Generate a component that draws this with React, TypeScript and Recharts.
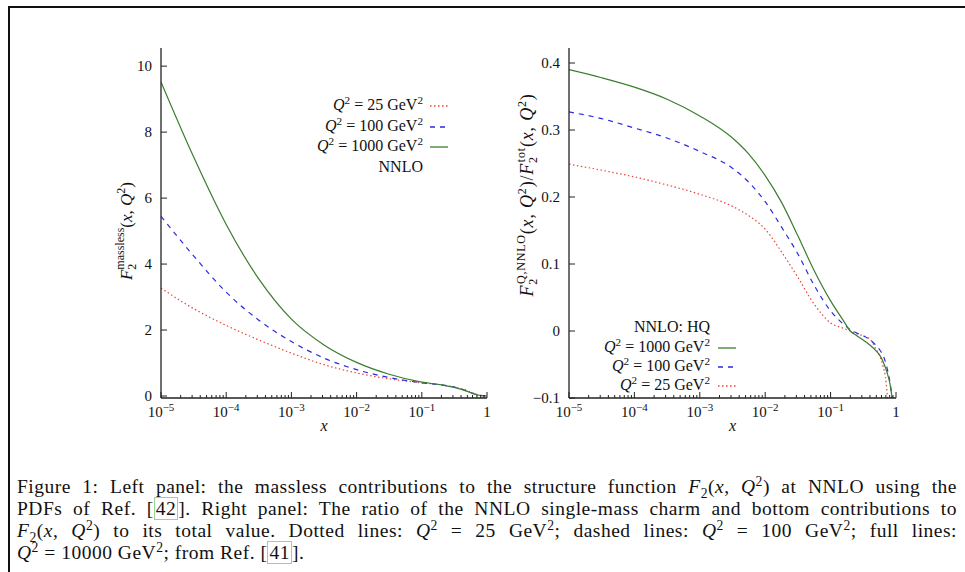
import { LineChart, Line, XAxis, YAxis } from "recharts";

const FONT = '"Liberation Serif", "Times New Roman", serif';
const AXIS = "#222";
const RED = "#e8453c";
const BLUE = "#2a2ae0";
const GREEN = "#3b7d2e";

// x ticks (log axis), shared by both panels
const majorTicks = [1e-5, 1e-4, 1e-3, 1e-2, 1e-1, 1];
const minorSteps = [2, 3, 4, 5, 6, 7, 8, 9];
const allXTicks = [
  ...majorTicks,
  ...majorTicks.slice(0, -1).flatMap((m) => minorSteps.map((s) => s * m)),
];

// left panel: massless F2
const leftX = [1e-5, 3.16e-5, 1e-4, 3.16e-4, 1e-3, 3.16e-3, 1e-2, 3.16e-2, 0.1, 0.2, 0.316, 0.5, 0.63, 0.79, 1];
const left1000 = [9.52, 7.25, 5.2, 3.55, 2.33, 1.55, 1.02, 0.66, 0.42, 0.34, 0.26, 0.14, 0.06, 0.015, 0];
const left100 = [5.45, 4.25, 3.15, 2.3, 1.65, 1.15, 0.8, 0.56, 0.4, 0.34, 0.27, 0.15, 0.07, 0.02, 0];
const left25 = [3.27, 2.65, 2.14, 1.7, 1.3, 0.95, 0.7, 0.52, 0.4, 0.34, 0.27, 0.16, 0.08, 0.02, 0];
const leftYTicks = [0, 2, 4, 6, 8, 10];

// right panel: ratio of heavy-quark part to total
const rightX = [
  1e-5, 3.16e-5, 1e-4, 3.16e-4, 1e-3, 3.16e-3, 5.62e-3, 1e-2, 1.78e-2, 3.16e-2, 5.62e-2, 0.1,
  0.158, 0.2, 0.251, 0.398, 0.5, 0.562, 0.631, 0.708, 0.741, 0.794, 0.832, 0.871,
];
const right1000 = [
  0.39, 0.378, 0.364, 0.346, 0.321, 0.288, 0.264, 0.232, 0.192, 0.142, 0.09, 0.045,
  0.015, 0.0, -0.007, -0.021, -0.03, -0.036, -0.045, -0.058, -0.064, -0.075, -0.086, -0.1,
];
const right100 = [
  0.327, 0.317, 0.303, 0.288, 0.268, 0.243, 0.222, 0.193, 0.155, 0.115, 0.068, 0.03,
  0.01, 0.002, -0.003, -0.013, -0.022, -0.028, -0.036, -0.05, -0.058, -0.072, -0.085, -0.1,
];
const right25 = [
  0.249, 0.24, 0.23, 0.218, 0.204, 0.186, 0.172, 0.152, 0.118, 0.08, 0.04, 0.012,
  0.004, 0.0, -0.004, -0.012, -0.028, -0.037, -0.052, -0.078, -0.1, null, null, null,
];
const rightYTicks = [-0.1, 0, 0.1, 0.2, 0.3, 0.4];

const leftData = leftX.map((x, i) => ({ x, q1000: left1000[i], q100: left100[i], q25: left25[i] }));
const rightData = rightX.map((x, i) => ({ x, q1000: right1000[i], q100: right100[i], q25: right25[i] }));

const isMajor = (v: number) => Math.abs(Math.log10(v) - Math.round(Math.log10(v))) < 1e-6;

const BottomTick = (props: any) => {
  const { x, y, payload } = props;
  const v = payload.value;
  const major = isMajor(v);
  const exp = Math.round(Math.log10(v));
  return (
    <g>
      <line x1={x} x2={x} y1={y} y2={y - (major ? 6 : 3)} stroke={AXIS} strokeWidth={1} />
      {major && (
        <text x={x} y={y + 19} textAnchor="middle" fontFamily={FONT} fontSize={15} fill="#111">
          {exp === 0 ? (
            "1"
          ) : (
            <>
              <tspan>10</tspan>
              <tspan dy={-6} fontSize={11}>{`−${-exp}`}</tspan>
            </>
          )}
        </text>
      )}
    </g>
  );
};

const TopTick = (props: any) => {
  const { x, y, payload } = props;
  const major = isMajor(payload.value);
  return <line x1={x} x2={x} y1={y} y2={y + (major ? 6 : 3)} stroke={AXIS} strokeWidth={1} />;
};

const fmtY = (v: number) => (v === 0 ? "0" : v < 0 ? `−${Math.abs(v)}` : `${v}`);

const LeftYTick = (props: any) => {
  const { x, y, payload } = props;
  return (
    <g>
      <line x1={x} x2={x + 6} y1={y} y2={y} stroke={AXIS} strokeWidth={1} />
      <text x={x - 9} y={y} textAnchor="end" dominantBaseline="central" fontFamily={FONT} fontSize={15} fill="#111">
        {fmtY(payload.value)}
      </text>
    </g>
  );
};

const RightYTick = (props: any) => {
  const { x, y } = props;
  return <line x1={x} x2={x - 6} y1={y} y2={y} stroke={AXIS} strokeWidth={1} />;
};

const xLabel = { value: "x", position: "insideBottom" as const, offset: 9, fontFamily: FONT, fontSize: 16, fontStyle: "italic", fill: "#111" };

// F_2^{sup}(x, Q^2) as rotated svg tspans
const F2Parts = ({ sup }: { sup: string }) => (
  <>
    <tspan fontStyle="italic">F</tspan>
    <tspan fontSize={12} dy={4}>2</tspan>
    <tspan fontSize={12} dx={-6} dy={-12}>{sup}</tspan>
    <tspan dy={8}>(</tspan>
    <tspan fontStyle="italic">x</tspan>
    <tspan>, </tspan>
    <tspan fontStyle="italic">Q</tspan>
    <tspan fontSize={12} dy={-7}>2</tspan>
    <tspan dy={7}>)</tspan>
  </>
);

const LeftYLabel = (p: any) => {
  const vb = p.viewBox;
  const cx = vb.x + vb.width - 29;
  const cy = 231;
  return (
    <text x={cx} y={cy} transform={`rotate(-90 ${cx} ${cy})`} textAnchor="middle" fontFamily={FONT} fontSize={17} fill="#111">
      <F2Parts sup="massless" />
    </text>
  );
};

const RightYLabel = (p: any) => {
  const vb = p.viewBox;
  const cx = vb.x + 33;
  const cy = 195;
  return (
    <text x={cx} y={cy} transform={`rotate(-90 ${cx} ${cy})`} textAnchor="middle" fontFamily={FONT} fontSize={18} letterSpacing={0.8} fill="#111">
      <F2Parts sup="Q,NNLO" />
      <tspan>/</tspan>
      <F2Parts sup="tot" />
    </text>
  );
};

const series = [
  { key: "q25", color: RED, dash: "1.5 2.5" },
  { key: "q100", color: BLUE, dash: "5 5" },
  { key: "q1000", color: GREEN, dash: undefined },
];

const supS = { fontSize: "0.7em", lineHeight: 0 };
const subS = { fontSize: "0.7em", lineHeight: 0 };

const Q2 = ({ q }: { q: string }) => (
  <span>
    <i>Q</i>
    <sup style={supS}>2</sup> = {q} GeV
    <sup style={supS}>2</sup>
  </span>
);

const LegendRow = ({ right, top, sampleX, children, color, dash }: any) => (
  <>
    <div style={{ position: "absolute", left: 0, width: right, top: top - 10, height: 20, lineHeight: "20px", textAlign: "right", fontFamily: FONT, fontSize: 16, color: "#111", whiteSpace: "nowrap" }}>
      {children}
    </div>
    {color && (
      <svg style={{ position: "absolute", left: sampleX, top: top - 2 }} width={18} height={6}>
        <line x1={0} x2={18} y1={3} y2={3} stroke={color} strokeWidth={1.3} strokeDasharray={dash} />
      </svg>
    )}
  </>
);

const Panel = ({ data, yDomain, yTicks, yWidth, marginRight, width, yLabel }: any) => (
  <LineChart width={width} height={440} data={data} margin={{ top: 48, right: marginRight, bottom: 0, left: 0 }}>
    <XAxis
      xAxisId="b"
      dataKey="x"
      type="number"
      scale="log"
      domain={[1e-5, 1]}
      allowDataOverflow
      ticks={allXTicks}
      interval={0}
      height={42}
      tickSize={0}
      tickMargin={0}
      tick={<BottomTick />}
      tickLine={false}
      axisLine={{ stroke: AXIS, strokeWidth: 1.3 }}
      label={xLabel}
    />
    <XAxis
      xAxisId="t"
      orientation="top"
      dataKey="x"
      type="number"
      scale="log"
      domain={[1e-5, 1]}
      allowDataOverflow
      ticks={allXTicks}
      interval={0}
      height={0}
      tickSize={0}
      tickMargin={0}
      tick={<TopTick />}
      tickLine={false}
      axisLine={{ stroke: AXIS, strokeWidth: 1.3 }}
    />
    <YAxis
      yAxisId="l"
      type="number"
      domain={yDomain}
      allowDataOverflow
      ticks={yTicks}
      interval={0}
      width={yWidth}
      tickSize={0}
      tickMargin={0}
      tick={<LeftYTick />}
      tickLine={false}
      axisLine={{ stroke: AXIS, strokeWidth: 1.3 }}
      label={{ content: yLabel }}
    />
    <YAxis
      yAxisId="r"
      orientation="right"
      type="number"
      domain={yDomain}
      allowDataOverflow
      ticks={yTicks}
      interval={0}
      width={0}
      tickSize={0}
      tickMargin={0}
      tick={<RightYTick />}
      tickLine={false}
      axisLine={{ stroke: AXIS, strokeWidth: 1.3 }}
    />
    {series.map((s) => (
      <Line
        key={s.key}
        xAxisId="b"
        yAxisId="l"
        dataKey={s.key}
        type="monotone"
        stroke={s.color}
        strokeWidth={1.2}
        strokeDasharray={s.dash}
        dot={false}
        activeDot={false}
        isAnimationActive={false}
      />
    ))}
  </LineChart>
);

const ref = { border: "1px solid #96d596", padding: "0 1px" };
const F2 = () => (
  <>
    <i>F</i>
    <sub style={subS}>2</sub>(<i>x</i>, <i>Q</i>
    <sup style={supS}>2</sup>)
  </>
);

const lineStyle = (top: number, justify: boolean): any => ({
  position: "absolute",
  left: 17,
  width: 940,
  top,
  height: 22,
  lineHeight: "22px",
  fontFamily: FONT,
  fontSize: 19.5,
  letterSpacing: "0.5px",
  color: "#111",
  whiteSpace: justify ? "normal" : "nowrap",
  textAlign: justify ? "justify" : "left",
  textAlignLast: justify ? "justify" : "left",
});

export default function App() {
  return (
    <div style={{ position: "absolute", left: 0, top: 0, width: 965, height: 572, background: "#fff", overflow: "hidden" }}>
      <div style={{ position: "absolute", left: 0, top: 0 }}>
        <Panel data={leftData} yDomain={[-0.06, 10.55]} yTicks={leftYTicks} yWidth={161} marginRight={13} width={500} yLabel={LeftYLabel} />
      </div>
      <div style={{ position: "absolute", left: 500, top: 0 }}>
        <Panel data={rightData} yDomain={[-0.1, 0.4224]} yTicks={rightYTicks} yWidth={69} marginRight={24} width={420} yLabel={RightYLabel} />
      </div>

      {/* left legend */}
      <LegendRow right={423} top={105} sampleX={430} color={RED} dash="1.5 2.5"><Q2 q="25" /></LegendRow>
      <LegendRow right={423} top={126} sampleX={430} color={BLUE} dash="5 5"><Q2 q="100" /></LegendRow>
      <LegendRow right={423} top={146} sampleX={430} color={GREEN}><Q2 q="1000" /></LegendRow>
      <LegendRow right={423} top={167}>NNLO</LegendRow>

      {/* right legend */}
      <LegendRow right={710} top={327}>NNLO: HQ</LegendRow>
      <LegendRow right={710} top={347} sampleX={718} color={GREEN}><Q2 q="1000" /></LegendRow>
      <LegendRow right={710} top={366} sampleX={718} color={BLUE} dash="5 5"><Q2 q="100" /></LegendRow>
      <LegendRow right={710} top={385} sampleX={718} color={RED} dash="1.5 2.5"><Q2 q="25" /></LegendRow>

      <div style={lineStyle(476, true)}>
        Figure 1: Left panel: the massless contributions to the structure function <F2 /> at NNLO using the
      </div>
      <div style={lineStyle(498, true)}>
        PDFs of Ref. [<span style={ref}>42</span>]. Right panel: The ratio of the NNLO single-mass charm and bottom contributions to
      </div>
      <div style={lineStyle(520, true)}>
        <F2 /> to its total value. Dotted lines: <i>Q</i>
        <sup style={supS}>2</sup> = 25 GeV<sup style={supS}>2</sup>; dashed lines: <i>Q</i>
        <sup style={supS}>2</sup> = 100 GeV<sup style={supS}>2</sup>; full lines:
      </div>
      <div style={lineStyle(542, false)}>
        <i>Q</i>
        <sup style={supS}>2</sup> = 10000 GeV<sup style={supS}>2</sup>; from Ref. [<span style={ref}>41</span>].
      </div>

      {/* page frame */}
      <div style={{ position: "absolute", left: 8, top: 6, width: 957, height: 2, background: "#111" }} />
      <div style={{ position: "absolute", left: 8, top: 6, width: 2, height: 566, background: "#111" }} />
    </div>
  );
}
